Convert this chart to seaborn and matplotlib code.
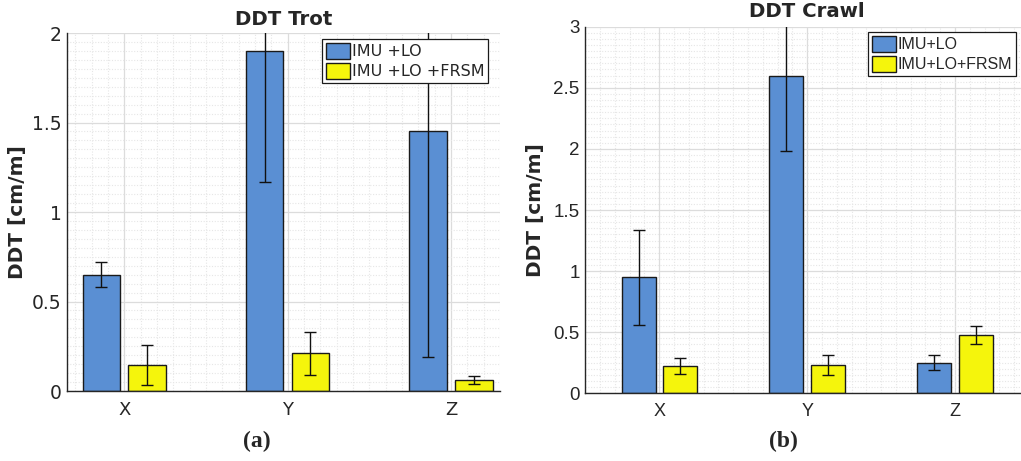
import matplotlib
matplotlib.use("Agg")
import matplotlib.pyplot as plt
import seaborn as sns
import pandas as pd
from matplotlib.patches import Patch
from matplotlib.ticker import MultipleLocator

# ---------------- data ----------------
axes_labels = ["X", "Y", "Z"]

trot_names = ["IMU +LO", "IMU +LO +FRSM"]
trot_base = [0.65, 1.90, 1.45]
trot_base_err = [0.068, 0.733, 1.26]
trot_frsm = [0.145, 0.21, 0.06]
trot_frsm_err = [0.11, 0.12, 0.022]

crawl_names = ["IMU+LO", "IMU+LO+FRSM"]
crawl_base = [0.95, 2.60, 0.25]
crawl_base_err = [0.39, 0.62, 0.06]
crawl_frsm = [0.225, 0.23, 0.477]
crawl_frsm_err = [0.065, 0.08, 0.077]

BLUE = "#5a8fd3"
YELLOW = "#f5f50c"
EDGE = "#1a1a1a"

sns.set_style("white")
plt.rcParams["font.family"] = ["DejaVu Sans"]

fig = plt.figure(figsize=(10.21, 4.61), dpi=100)

W, H = 1021.0, 461.0
ax1 = fig.add_axes([67 / W, (H - 391) / H, 433 / W, 358 / H])
ax2 = fig.add_axes([585.3 / W, (H - 393.3) / H, 443.7 / W, 366.6 / H])


def draw(ax, names, base, base_err, frsm, frsm_err, ylim, xlim, yticks,
         tickfont, legend_anchor, title, title_pad, label_x):
    df = pd.DataFrame({
        "axis": axes_labels * 2,
        "value": list(base) + list(frsm),
        "method": [names[0]] * 3 + [names[1]] * 3,
    })
    errs = [base_err, frsm_err]
    sns.barplot(data=df, x="axis", y="value", hue="method",
                palette=[BLUE, YELLOW], width=0.56, gap=0.18,
                edgecolor=EDGE, linewidth=1.0, legend=False,
                errorbar=None, saturation=1, ax=ax, zorder=2)
    for cont, err in zip(ax.containers, errs):
        xs = [p.get_x() + p.get_width() / 2 for p in cont.patches]
        ys = [p.get_height() for p in cont.patches]
        ax.errorbar(xs, ys, yerr=err, fmt="none", ecolor="#111111",
                    elinewidth=1.0, capsize=4.5, capthick=1.0, zorder=3)
    ax.set_ylim(*ylim)
    ax.set_xlim(*xlim)
    ax.set_yticks(yticks)
    ax.set_yticklabels([f"{t:g}" for t in yticks])
    ax.yaxis.set_minor_locator(MultipleLocator(0.05))
    ax.xaxis.set_minor_locator(MultipleLocator(0.1))
    ax.set_axisbelow(True)
    ax.grid(which="major", color="#dcdcdc", lw=0.9, ls="-")
    ax.grid(which="minor", color="#e6e6e6", lw=0.8, ls=(0, (1, 1.5)))
    for s in ["top", "right"]:
        ax.spines[s].set_visible(False)
    for s in ["left", "bottom"]:
        ax.spines[s].set_color("#262626")
        ax.spines[s].set_linewidth(1.0)
    ax.tick_params(which="major", direction="in", length=4, width=1.0,
                   color="#262626", labelcolor="#262626", labelsize=13.5)
    ax.tick_params(axis="x", which="major", length=3, pad=7, labelsize=13)
    ax.tick_params(axis="y", which="major", pad=4)
    ax.tick_params(which="minor", length=0)
    for lab in ax.get_xticklabels() + ax.get_yticklabels():
        lab.set_family(tickfont)
    ax.set_xlabel("")
    ax.set_ylabel("DDT [cm/m]", fontsize=14.5, fontweight="bold", color="#262626")
    ax.yaxis.set_label_coords(label_x, 0.5)
    ax.set_title(title, fontsize=14.2, fontweight="bold", pad=title_pad)
    handles = [Patch(facecolor=BLUE, edgecolor=EDGE, lw=1.0),
               Patch(facecolor=YELLOW, edgecolor=EDGE, lw=1.0)]
    leg = ax.legend(handles, names, loc="upper left",
                    bbox_to_anchor=legend_anchor, bbox_transform=fig.transFigure,
                    frameon=True, fancybox=False, framealpha=1,
                    edgecolor="#1a1a1a", borderpad=0.25, labelspacing=0.22,
                    handlelength=1.5, handleheight=1.15, handletextpad=0.1,
                    borderaxespad=0, prop={"family": tickfont, "size": 11.5})
    leg.get_frame().set_linewidth(0.9)


draw(ax1, trot_names, trot_base, trot_base_err, trot_frsm, trot_frsm_err,
     (0, 2), (-0.35, 2.30), [0, 0.5, 1, 1.5, 2], "DejaVu Sans",
     (322 / W, 1 - 39 / H), "DDT Trot", 6, -0.092)
draw(ax2, crawl_names, crawl_base, crawl_base_err, crawl_frsm, crawl_frsm_err,
     (0, 3), (-0.5, 2.5), [0, 0.5, 1, 1.5, 2, 2.5, 3], "Liberation Sans",
     (868 / W, 1 - 32 / H), "DDT Crawl", 7, -0.091)

fig.text(257 / W, 1 - 441 / H, "(a)", ha="center", va="center", fontsize=17,
         fontweight="bold", family="Liberation Serif")
fig.text(783 / W, 1 - 441 / H, "(b)", ha="center", va="center", fontsize=17,
         fontweight="bold", family="Liberation Serif")

fig.savefig("out.png", dpi=100)
